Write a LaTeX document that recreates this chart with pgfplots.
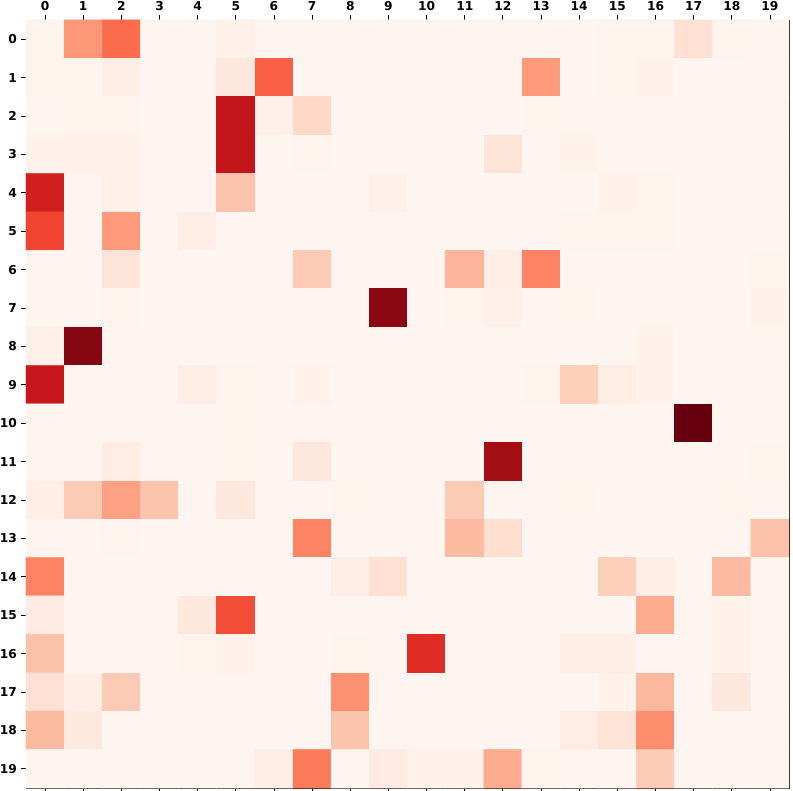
\documentclass[border=0pt]{standalone}
\usepackage{pgfplots}
\pgfplotsset{compat=1.18}
\usepackage{fontspec}
\setmainfont{DejaVu Sans}
\begin{document}
\begin{tikzpicture}[x=0.72pt,y=0.72pt]
\begin{axis}[
  at={(0,0)}, anchor=south west,
  scale only axis, width=549.4pt, height=553pt,
  y dir=reverse, enlargelimits=false,
  xmin=-0.5, xmax=19.5, ymin=-0.5, ymax=19.5,
  xtick={0,...,19}, ytick={0,...,19},
  xtick pos=both, xticklabel pos=upper, ytick pos=left,
  tick align=outside, major tick length=3.6pt,
  tick style={black, line width=0.6pt},
  axis line style={line width=0.6pt},
  ticklabel style={font=\bfseries\fontsize{8.8}{10}\selectfont, inner sep=2.8pt},
  /pgf/number format/assume math mode=true,
  colormap={reds}{rgb255=(255,245,240) rgb255=(254,224,210) rgb255=(252,187,161) rgb255=(252,146,114) rgb255=(251,106,74) rgb255=(239,59,44) rgb255=(203,24,29) rgb255=(165,15,21) rgb255=(103,0,13)},
  point meta min=0, point meta max=1,
]
\addplot[matrix plot*, mesh/cols=20, mesh/ordering=x varies, point meta=explicit]
  table[meta=c] {
x y c
0 0 0.01
1 0 0.36
2 0 0.49
3 0 0
4 0 0
5 0 0.03
6 0 0
7 0 0
8 0 0
9 0 0
10 0 0
11 0 0
12 0 0
13 0 0
14 0 0
15 0 0.01
16 0 0.01
17 0 0.12
18 0 0.01
19 0 0
0 1 0.01
1 1 0.01
2 1 0.04
3 1 0
4 1 0
5 1 0.08
6 1 0.53
7 1 0
8 1 0
9 1 0
10 1 0
11 1 0
12 1 0
13 1 0.35
14 1 0
15 1 0.01
16 1 0.02
17 1 0
18 1 0
19 1 0
0 2 0
1 2 0.01
2 2 0.01
3 2 0
4 2 0
5 2 0.78
6 2 0.03
7 2 0.15
8 2 0
9 2 0
10 2 0
11 2 0
12 2 0
13 2 0.01
14 2 0
15 2 0
16 2 0
17 2 0
18 2 0
19 2 0
0 3 0.02
1 3 0.03
2 3 0.03
3 3 0
4 3 0
5 3 0.78
6 3 0
7 3 0.01
8 3 0
9 3 0
10 3 0
11 3 0
12 3 0.1
13 3 0
14 3 0.02
15 3 0
16 3 0
17 3 0
18 3 0
19 3 0
0 4 0.73
1 4 0
2 4 0.03
3 4 0
4 4 0
5 4 0.22
6 4 0
7 4 0
8 4 0
9 4 0.03
10 4 0
11 4 0
12 4 0
13 4 0
14 4 0
15 4 0.02
16 4 0.01
17 4 0
18 4 0
19 4 0
0 5 0.6
1 5 0
2 5 0.35
3 5 0
4 5 0.04
5 5 0
6 5 0
7 5 0
8 5 0
9 5 0
10 5 0
11 5 0
12 5 0
13 5 0
14 5 0.01
15 5 0.01
16 5 0.01
17 5 0
18 5 0
19 5 0
0 6 0
1 6 0
2 6 0.1
3 6 0
4 6 0
5 6 0
6 6 0
7 6 0.2
8 6 0
9 6 0
10 6 0
11 6 0.27
12 6 0.04
13 6 0.42
14 6 0
15 6 0
16 6 0
17 6 0
18 6 0
19 6 0.01
0 7 0
1 7 0
2 7 0.01
3 7 0
4 7 0
5 7 0
6 7 0
7 7 0
8 7 0
9 7 0.93
10 7 0
11 7 0.01
12 7 0.03
13 7 0
14 7 0.01
15 7 0
16 7 0
17 7 0
18 7 0
19 7 0.02
0 8 0.03
1 8 0.94
2 8 0
3 8 0
4 8 0
5 8 0
6 8 0
7 8 0
8 8 0
9 8 0
10 8 0
11 8 0
12 8 0
13 8 0
14 8 0
15 8 0
16 8 0.02
17 8 0
18 8 0
19 8 0
0 9 0.76
1 9 0
2 9 0
3 9 0
4 9 0.04
5 9 0.01
6 9 0
7 9 0.02
8 9 0
9 9 0
10 9 0
11 9 0
12 9 0
13 9 0.01
14 9 0.18
15 9 0.05
16 9 0.02
17 9 0
18 9 0
19 9 0
0 10 0
1 10 0
2 10 0
3 10 0
4 10 0
5 10 0.01
6 10 0
7 10 0
8 10 0
9 10 0
10 10 0
11 10 0
12 10 0
13 10 0
14 10 0
15 10 0
16 10 0
17 10 1.0
18 10 0
19 10 0
0 11 0
1 11 0
2 11 0.05
3 11 0
4 11 0
5 11 0.01
6 11 0
7 11 0.08
8 11 0
9 11 0
10 11 0
11 11 0
12 11 0.88
13 11 0
14 11 0
15 11 0
16 11 0
17 11 0
18 11 0
19 11 0.01
0 12 0.04
1 12 0.2
2 12 0.33
3 12 0.22
4 12 0
5 12 0.08
6 12 0
7 12 0
8 12 0.01
9 12 0
10 12 0
11 12 0.2
12 12 0
13 12 0
14 12 0.01
15 12 0
16 12 0
17 12 0
18 12 0.01
19 12 0
0 13 0
1 13 0
2 13 0.01
3 13 0
4 13 0
5 13 0
6 13 0
7 13 0.42
8 13 0
9 13 0
10 13 0
11 13 0.25
12 13 0.13
13 13 0
14 13 0
15 13 0
16 13 0
17 13 0
18 13 0
19 13 0.23
0 14 0.42
1 14 0
2 14 0
3 14 0
4 14 0
5 14 0
6 14 0
7 14 0
8 14 0.04
9 14 0.12
10 14 0
11 14 0
12 14 0
13 14 0
14 14 0
15 14 0.18
16 14 0.04
17 14 0
18 14 0.25
19 14 0
0 15 0.06
1 15 0
2 15 0
3 15 0
4 15 0.08
5 15 0.58
6 15 0
7 15 0
8 15 0
9 15 0
10 15 0
11 15 0
12 15 0
13 15 0
14 15 0
15 15 0
16 15 0.3
17 15 0
18 15 0.02
19 15 0
0 16 0.23
1 16 0
2 16 0
3 16 0
4 16 0.01
5 16 0.02
6 16 0
7 16 0
8 16 0.01
9 16 0
10 16 0.68
11 16 0
12 16 0
13 16 0
14 16 0.04
15 16 0.04
16 16 0
17 16 0
18 16 0.02
19 16 0
0 17 0.12
1 17 0.04
2 17 0.2
3 17 0
4 17 0
5 17 0
6 17 0
7 17 0
8 17 0.38
9 17 0
10 17 0
11 17 0
12 17 0
13 17 0
14 17 0
15 17 0.02
16 17 0.26
17 17 0
18 17 0.08
19 17 0
0 18 0.25
1 18 0.07
2 18 0
3 18 0
4 18 0
5 18 0
6 18 0
7 18 0
8 18 0.22
9 18 0
10 18 0
11 18 0
12 18 0
13 18 0
14 18 0.05
15 18 0.11
16 18 0.39
17 18 0
18 18 0
19 18 0
0 19 0
1 19 0
2 19 0
3 19 0
4 19 0
5 19 0
6 19 0.04
7 19 0.45
8 19 0
9 19 0.06
10 19 0.02
11 19 0.02
12 19 0.3
13 19 0.01
14 19 0
15 19 0
16 19 0.2
17 19 0
18 19 0
19 19 0
};
\end{axis}
\pgfresetboundingbox
\path (-26,-3) rectangle (767,788);
\end{tikzpicture}
\end{document}
